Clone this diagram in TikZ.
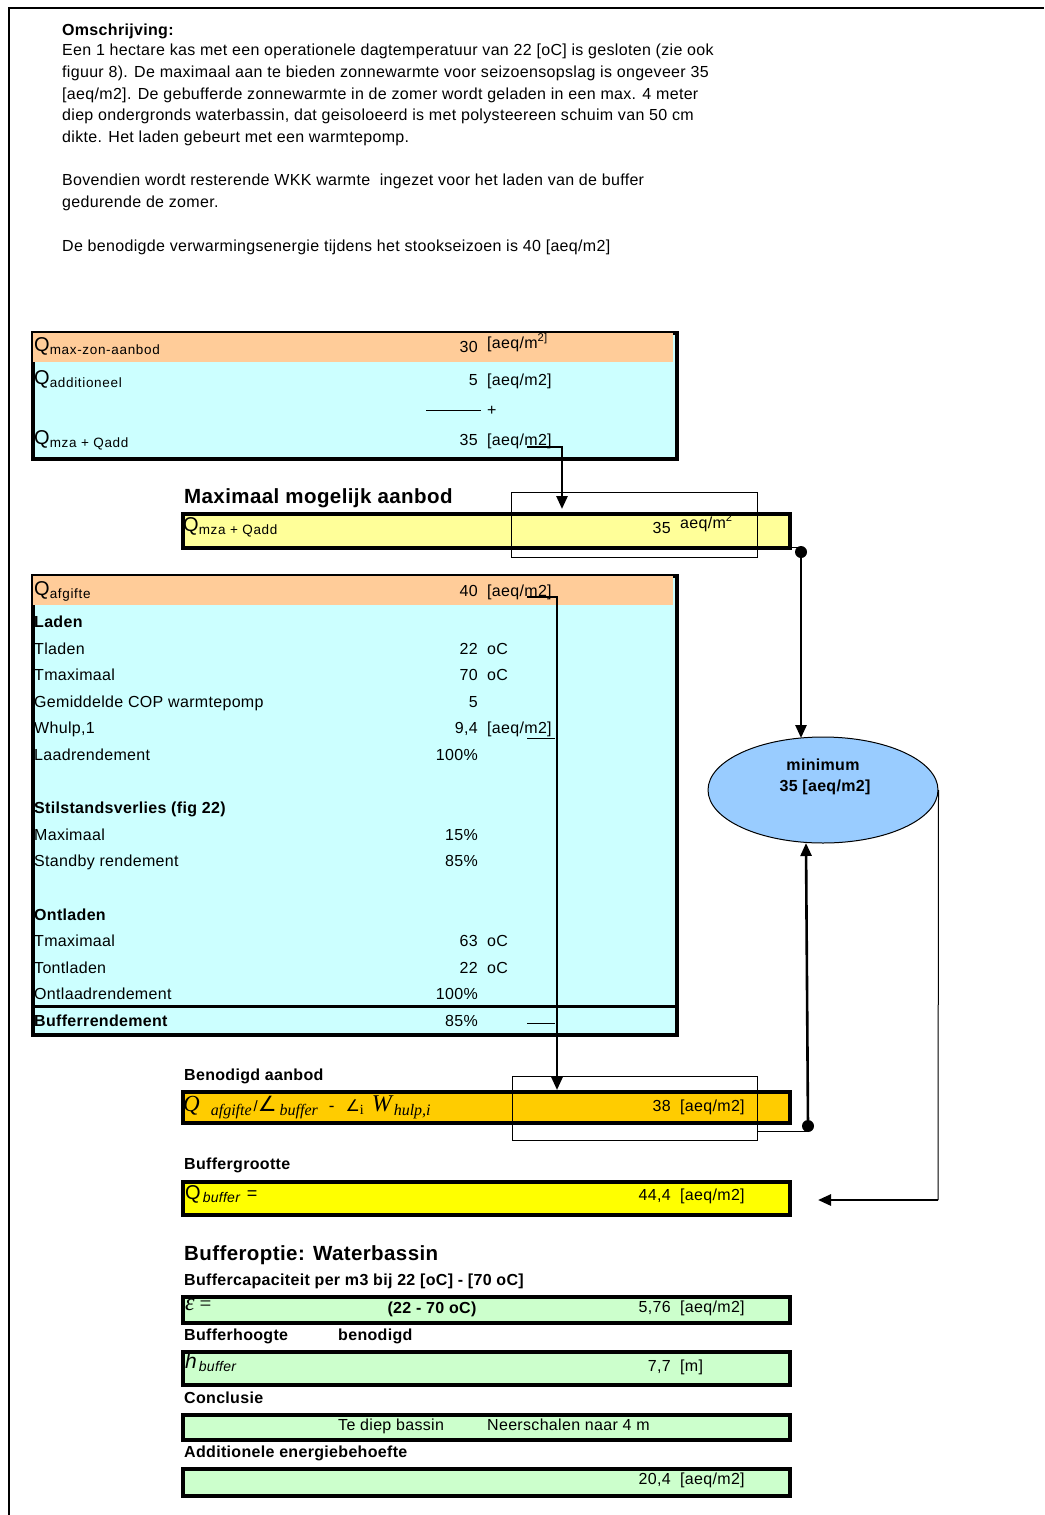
\documentclass[tikz,border=0pt]{standalone}
\usepackage{fontspec}
\setmainfont[LetterSpace=2]{Liberation Sans}
\newfontfamily\subfont[LetterSpace=5]{Liberation Sans}
\newfontfamily\tms{Liberation Serif}
\newfontfamily\djv{DejaVu Sans}
\usetikzlibrary{shapes.geometric,arrows.meta}
\definecolor{peach}{HTML}{FFCC99}
\definecolor{lcyan}{HTML}{CCFFFF}
\definecolor{lyellow}{HTML}{FFFF99}
\definecolor{orng}{HTML}{FFCC00}
\definecolor{yel}{HTML}{FFFF00}
\definecolor{lgreen}{HTML}{CCFFCC}
\definecolor{ellblue}{HTML}{99CCFF}
\newcommand\fs{\fontsize{16}{18}\selectfont}
\newcommand\fsb{\fontsize{20.5}{23}\selectfont\bfseries}
\newcommand\bigQ{\fontsize{20}{20}\selectfont Q}
\newcommand\Qsub[1]{{\bigQ}\raisebox{-3.5pt}{\subfont\fontsize{13.5}{14}\selectfont #1}}
\newcommand\tsub[1]{\raisebox{-4pt}{\tms\itshape\fontsize{16}{16}\selectfont #1}}
\tikzset{
 frameline/.style={line width=2pt},
 boxborder/.style={draw, line width=4pt, inner sep=0pt, anchor=north west},
 selbox/.style={draw, line width=1pt, inner sep=0pt, anchor=north west},
 cell/.style={inner sep=0pt, anchor=base west, font=\fs},
 num/.style={inner sep=0pt, anchor=base east, font=\fs},
 hdr/.style={inner sep=0pt, anchor=base west, font=\fs\bfseries},
 bighdr/.style={inner sep=0pt, anchor=base west, font=\fsb},
 conn/.style={line width=2.6pt},
 thinline/.style={line width=1pt},
 arr/.style={-{Triangle[length=13pt,width=11pt]}},
 dot/.style={circle, fill=black, inner sep=0pt, minimum size=12pt},
}
\begin{document}
\begin{tikzpicture}[x=1pt,y=-1pt]
\useasboundingbox (0,0) rectangle (1044,1515);
% page frame
\draw[frameline] (9,1515) -- (9,8) -- (1044,8);

% description
\node[hdr] (om) at (62,35) {Omschrijving:};
\node[cell] (d1) at (62,55.5) {Een 1 hectare kas met een operationele dagtemperatuur van 22 [oC] is gesloten (zie ook};
\node[cell] (d2) at (62,77) {figuur 8). De maximaal aan te bieden zonnewarmte voor seizoensopslag is ongeveer 35};
\node[cell] (d3) at (62,99) {[aeq/m2]. De gebufferde zonnewarmte in de zomer wordt geladen in een max. 4 meter};
\node[cell] (d4) at (62,120.5) {diep ondergronds waterbassin, dat geisoloeerd is met polysteereen schuim van 50 cm};
\node[cell] (d5) at (62,142) {dikte. Het laden gebeurt met een warmtepomp.};
\node[cell] (d6) at (62,185.5) {Bovendien wordt resterende WKK warmte\ \ ingezet voor het laden van de buffer};
\node[cell] (d7) at (62,207) {gedurende de zomer.};
\node[cell] (d8) at (62,251) {De benodigde verwarmingsenergie tijdens het stookseizoen is 40 [aeq/m2]};

% ---------- box 1
\node[boxborder, fill=lcyan, minimum width=644pt, minimum height=126pt] (box1) at (31,331) {};
\fill[peach] (33,333) rectangle (673,362);
\node[cell] (q1) at (34,351) {\Qsub{max-zon-aanbod}};
\node[num] (v1) at (478,352.5) {30};
\node[cell] (u1) at (487,348) {[aeq/m\textsuperscript{2]}};
\node[cell] (q2) at (34,384) {\Qsub{additioneel}};
\node[num] (v2) at (478,385.5) {5};
\node[cell] (u2) at (487,385.5) {[aeq/m2]};
\coordinate (sumL) at (426,410);
\coordinate (sumR) at (481,410);
\draw[thinline] (sumL) -- (sumR);
\node[cell] (plus) at (487,415.5) {+};
\node[cell] (q3) at (34,444) {\Qsub{mza + Qadd}};
\node[num] (v3) at (478,445.5) {35};
\node[cell] (u3) at (487,445.5) {[aeq/m2]};

% ---------- maximaal mogelijk aanbod
\node[bighdr] (hmax) at (184,503) {Maximaal mogelijk aanbod};
\node[boxborder, fill=lyellow, minimum width=607pt, minimum height=34pt] (ymax) at (181,512) {};
\node[cell] (q4) at (183,531) {\Qsub{mza + Qadd}};
\node[num] (v4) at (671,533.5) {35};
\node[cell] (u4) at (680,528) {aeq/m\textsuperscript{2}};
\node[selbox, minimum width=246pt, minimum height=65pt] (sel1) at (511,492) {};

% ---------- big box
\node[boxborder, fill=lcyan, minimum width=644pt, minimum height=459pt] (box2) at (31,574) {};
\fill[peach] (33,576) rectangle (673,605);
\draw[line width=3pt] (31,1006) -- (675,1006);
\node[cell] (q5) at (34,595) {\Qsub{afgifte}};
\node[num] (v5) at (478,596.5) {40};
\node[cell] (u5) at (487,596.5) {[aeq/m2]};
\node[hdr] (r1) at (34,627.5) {Laden};
\node[cell] (r2) at (34,654) {Tladen};
\node[num] (r2v) at (478,654) {22};
\node[cell] (r2u) at (487,654) {oC};
\node[cell] (r3) at (34,680.6) {Tmaximaal};
\node[num] (r3v) at (478,680.6) {70};
\node[cell] (r3u) at (487,680.6) {oC};
\node[cell] (r4) at (34,707.2) {Gemiddelde COP warmtepomp};
\node[num] (r4v) at (478,707.2) {5};
\node[cell] (r5) at (34,733.8) {Whulp,1};
\node[num] (r5v) at (478,733.8) {9,4};
\node[cell] (r5u) at (487,733.8) {[aeq/m2]};
\node[cell] (r6) at (34,760.4) {Laadrendement};
\node[num] (r6v) at (478,760.4) {100\%};
\node[hdr] (r7) at (34,813.6) {Stilstandsverlies (fig 22)};
\node[cell] (r8) at (34,840.2) {Maximaal};
\node[num] (r8v) at (478,840.2) {15\%};
\node[cell] (r9) at (34,866.8) {Standby rendement};
\node[num] (r9v) at (478,866.8) {85\%};
\node[hdr] (r10) at (34,920) {Ontladen};
\node[cell] (r11) at (34,946.6) {Tmaximaal};
\node[num] (r11v) at (478,946.6) {63};
\node[cell] (r11u) at (487,946.6) {oC};
\node[cell] (r12) at (34,973.2) {Tontladen};
\node[num] (r12v) at (478,973.2) {22};
\node[cell] (r12u) at (487,973.2) {oC};
\node[cell] (r13) at (34,999.8) {Ontlaadrendement};
\node[num] (r13v) at (478,999.8) {100\%};
\node[hdr] (r14) at (34,1026.4) {Bufferrendement};
\node[num] (r14v) at (478,1026.4) {85\%};

% ---------- ellipse
\node[ellipse, draw, fill=ellblue, line width=1pt, minimum width=230pt, minimum height=106pt] (mini) at (823,790) {};
\node[font=\fs\bfseries, inner sep=0pt] (mt1) at (823,765) {minimum};
\node[font=\fs\bfseries, inner sep=0pt] (mt2) at (825,787) {35 [aeq/m2]};

% ---------- benodigd aanbod
\node[hdr] (hben) at (184,1080.5) {Benodigd aanbod};
\node[boxborder, fill=orng, minimum width=607pt, minimum height=31pt] (ben) at (181,1090) {};
\node[cell] (f1) at (183,1111) {{\tms\itshape\fontsize{23}{23}\selectfont Q}\hspace{11pt}\tsub{afgifte}\hspace{2pt}{\fontsize{15}{15}\selectfont /}{\djv\itshape\fontsize{21}{21}\selectfont ∠}\hspace{3pt}\tsub{buffer}\hspace{11pt}{\fontsize{17}{17}\selectfont -}\hspace{11pt}{\djv\itshape\fontsize{16}{16}\selectfont ∠}\raisebox{-3pt}{\tms\fontsize{14}{14}\selectfont i}\hspace{8pt}{\tms\itshape\fontsize{24}{24}\selectfont W}\hspace{2pt}\tsub{hulp,i}};
\node[num] (v6) at (671,1111.5) {38};
\node[cell] (u6) at (680,1111.5) {[aeq/m2]};
\node[selbox, minimum width=245pt, minimum height=64pt] (sel2) at (512,1076) {};

% ---------- buffergrootte
\node[hdr] (hbg) at (184,1169.5) {Buffergrootte};
\node[boxborder, fill=yel, minimum width=607pt, minimum height=33pt] (bufg) at (181,1180) {};
\node[cell] (f2) at (185,1199) {{\fontsize{20}{20}\selectfont Q}\hspace{2pt}\raisebox{-3.5pt}{\itshape\fontsize{14}{14}\selectfont buffer}\hspace{7pt}{\fontsize{18}{18}\selectfont =}};
\node[num] (v7) at (671,1200.5) {44,4};
\node[cell] (u7) at (680,1200.5) {[aeq/m2]};

% ---------- bufferoptie
\node[bighdr] (hbo) at (184,1260) {Bufferoptie: Waterbassin};
\node[hdr] (hbc) at (184,1285.5) {Buffercapaciteit per m3 bij 22 [oC] - [70 oC]};
\node[boxborder, fill=lgreen, minimum width=607pt, minimum height=26pt] (eps) at (181,1295) {};
\node[cell] (f3) at (185,1310.5) {{\tms\itshape\fontsize{24}{24}\selectfont ε}\hspace{5pt}{\tms\fontsize{21}{21}\selectfont =}};
\node[inner sep=0pt, anchor=base, font=\fs\bfseries] (rng) at (432,1313) {(22 - 70 oC)};
\node[num] (v8) at (671,1312.5) {5,76};
\node[cell] (u8) at (680,1312.5) {[aeq/m2]};

\node[hdr] (hbh) at (184,1340.5) {Bufferhoogte};
\node[hdr] (hbn) at (338,1340.5) {benodigd};
\node[boxborder, fill=lgreen, minimum width=607pt, minimum height=33pt] (hbuf) at (181,1350) {};
\node[cell] (f4) at (185,1368) {{\itshape\fontsize{21}{21}\selectfont h}\hspace{2pt}\raisebox{-3.5pt}{\itshape\fontsize{14}{14}\selectfont buffer}};
\node[num] (v9) at (671,1371.5) {7,7};
\node[cell] (u9) at (680,1371.5) {[m]};

\node[hdr] (hcon) at (184,1403.5) {Conclusie};
\node[boxborder, fill=lgreen, minimum width=607pt, minimum height=25pt] (concl) at (181,1413) {};
\node[cell] (c1t) at (338,1430.5) {Te diep bassin};
\node[cell] (c2t) at (487,1430.5) {Neerschalen naar 4 m};

\node[hdr] (hadd) at (184,1457.5) {Additionele energiebehoefte};
\node[boxborder, fill=lgreen, minimum width=607pt, minimum height=27pt] (addit) at (181,1467) {};
\node[num] (v10) at (671,1484.5) {20,4};
\node[cell] (u10) at (680,1484.5) {[aeq/m2]};

% ---------- connectors
\coordinate (a1) at (527,447);
\coordinate (a1b) at (562,447);
\coordinate (a1e) at (562,509);
\draw[conn, arr] (a1) -- (a1b) -- (a1e);

\node[dot] (dot1) at (801,552) {};
\coordinate (a2s) at (757,547);
\draw[thinline] (a2s) -- (a2s -| dot1);
\coordinate (a2e) at (801,738);
\draw[conn, arr] (dot1) -- (a2e);

\coordinate (a3) at (527,597);
\coordinate (a3b) at (557,597);
\coordinate (a3e) at (557,1090);
\draw[conn, arr] (a3) -- (a3b) -- (a3e);
\coordinate (w1) at (527,738);
\coordinate (w2) at (555,738);
\draw[thinline] (w1) -- (w2);
\coordinate (br1) at (527,1023);
\coordinate (br2) at (555,1023);
\draw[thinline] (br1) -- (br2);

\node[dot] (dot2) at (808,1126) {};
\coordinate (a4s) at (757,1131);
\draw[thinline] (a4s) -- (a4s -| dot2);
\coordinate (a4e) at (806,843);
\draw[conn, arr] (dot2) -- (a4e);

\coordinate (a5m) at (938,1200);
\coordinate (a5e) at (818,1200);
\draw[thinline] (mini.east) -- (a5m);
\draw[conn, arr] (a5m) -- (a5e);
\end{tikzpicture}
\end{document}
